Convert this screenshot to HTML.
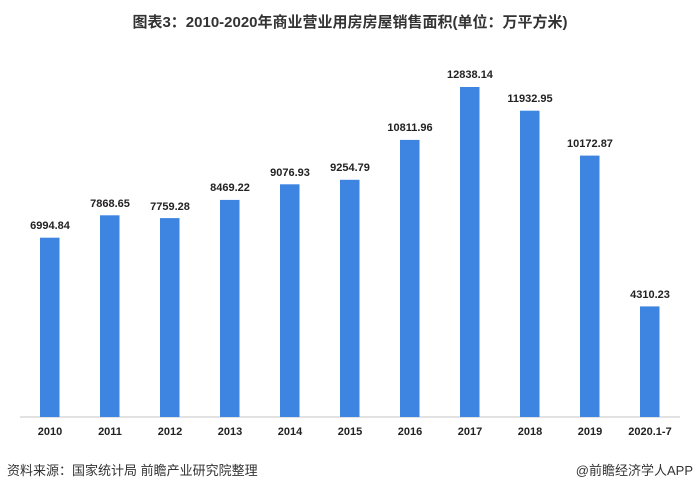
<!DOCTYPE html>
<html><head><meta charset="utf-8"><style>
body{margin:0;background:#fff;}
svg{display:block;font-family:"Liberation Sans","Noto Sans CJK SC",sans-serif;}
</style></head><body>
<svg width="700" height="493" xmlns="http://www.w3.org/2000/svg">
<rect width="700" height="493" fill="#fff"/>
<text x="350" y="27" text-anchor="middle" font-size="15" font-weight="bold" fill="#333">图表3：2010-2020年商业营业用房房屋销售面积(单位：万平方米)</text>
<line x1="20" y1="417" x2="680" y2="417" stroke="#d9d9d9" stroke-width="1.5"/>
<g fill="#3d85e0">
<rect x="40" y="237.7" width="19.5" height="179.3"/>
<rect x="100" y="215.3" width="19.5" height="201.7"/>
<rect x="160" y="218.1" width="19.5" height="198.9"/>
<rect x="220" y="199.9" width="19.5" height="217.1"/>
<rect x="280" y="184.3" width="19.5" height="232.7"/>
<rect x="340" y="179.8" width="19.5" height="237.2"/>
<rect x="400" y="139.9" width="19.5" height="277.1"/>
<rect x="460" y="87" width="19.5" height="330"/>
<rect x="520" y="110.7" width="19.5" height="306.3"/>
<rect x="580" y="155.6" width="19.5" height="261.4"/>
<rect x="640" y="306.4" width="19.5" height="110.6"/>
</g>
<g font-size="11" font-weight="bold" fill="#222" text-anchor="middle">
<text x="50" y="229">6994.84</text>
<text x="110" y="207">7868.65</text>
<text x="170" y="210">7759.28</text>
<text x="230" y="191">8469.22</text>
<text x="290" y="176">9076.93</text>
<text x="350" y="171">9254.79</text>
<text x="410" y="131">10811.96</text>
<text x="470" y="78">12838.14</text>
<text x="530" y="102">11932.95</text>
<text x="590" y="147">10172.87</text>
<text x="650" y="298">4310.23</text>
</g>
<g font-size="11" font-weight="bold" fill="#222" text-anchor="middle">
<text x="50" y="435">2010</text>
<text x="110" y="435">2011</text>
<text x="170" y="435">2012</text>
<text x="230" y="435">2013</text>
<text x="290" y="435">2014</text>
<text x="350" y="435">2015</text>
<text x="410" y="435">2016</text>
<text x="470" y="435">2017</text>
<text x="530" y="435">2018</text>
<text x="590" y="435">2019</text>
<text x="650" y="435">2020.1-7</text>
</g>
<text x="7" y="475" font-size="13" fill="#333">资料来源：国家统计局 前瞻产业研究院整理</text>
<text x="693" y="475" font-size="13" fill="#333" text-anchor="end">@前瞻经济学人APP</text>
</svg>
</body></html>
